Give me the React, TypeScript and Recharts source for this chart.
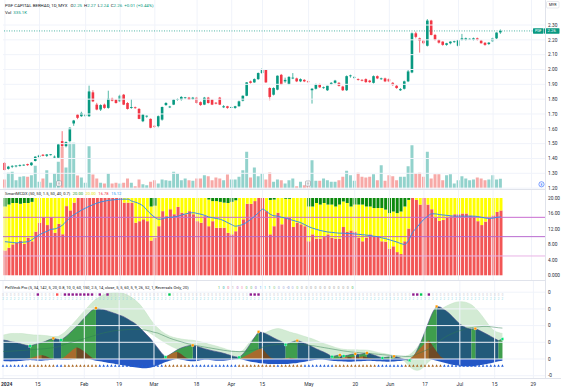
import React from 'react';
import { ComposedChart, Bar, Line, Area, XAxis, YAxis, ReferenceLine, Cell } from 'recharts';

// ---------------- data ----------------
const X_TICK_INDEX = [0, 9, 21, 30, 39, 50, 59, 67, 79, 91, 100, 109, 118, 127, 137];
const X_TICK_LABELS = ['2024', '15', 'Feb', '19', 'Mar', '18', 'Apr', '15', 'May', '20', 'Jun', '17', 'Jul', '15', '29'];
const PRICE_TICKS = [1.2, 1.3, 1.4, 1.5, 1.6, 1.7, 1.8, 1.9, 2.0, 2.1, 2.2, 2.3];
const MCDX_TICKS = [0, 4, 8, 12, 16, 20];
const MCDX_LEVELS = [15, 10, 5];
const OSC_TICKS = [-1, 0, 1, 2, 3, 4];
const LAST_CLOSE = 2.26;
const FUTURE_BARS = 11;

// [open, high, low, close]
const OHLC: number[][] = [
  [1.37, 1.375, 1.32, 1.322], [1.33, 1.35, 1.325, 1.345], [1.345, 1.355, 1.335, 1.35], [1.35, 1.355, 1.34, 1.352], [1.352, 1.36, 1.345, 1.355],
  [1.355, 1.36, 1.35, 1.358], [1.362, 1.365, 1.35, 1.355], [1.355, 1.375, 1.35, 1.372], [1.383, 1.415, 1.38, 1.412], [1.41, 1.425, 1.405, 1.42],
  [1.425, 1.43, 1.415, 1.418], [1.418, 1.43, 1.41, 1.427], [1.425, 1.43, 1.42, 1.428], [1.41, 1.42, 1.4, 1.412], [1.405, 1.5, 1.4, 1.495],
  [1.517, 1.584, 1.48, 1.483], [1.483, 1.515, 1.475, 1.51], [1.517, 1.61, 1.51, 1.607], [1.636, 1.66, 1.62, 1.656], [1.696, 1.7, 1.665, 1.674],
  [1.685, 1.715, 1.68, 1.707], [1.69, 1.7, 1.68, 1.695], [1.685, 1.891, 1.68, 1.852], [1.846, 1.86, 1.78, 1.785], [1.763, 1.775, 1.725, 1.73],
  [1.73, 1.765, 1.72, 1.76], [1.763, 1.77, 1.735, 1.741], [1.741, 1.857, 1.735, 1.803], [1.803, 1.81, 1.785, 1.79], [1.797, 1.8, 1.77, 1.774],
  [1.785, 1.83, 1.78, 1.823], [1.83, 1.835, 1.76, 1.763], [1.774, 1.78, 1.73, 1.734], [1.741, 1.8, 1.735, 1.747], [1.745, 1.75, 1.735, 1.741],
  [1.734, 1.74, 1.665, 1.667], [1.651, 1.7, 1.645, 1.696], [1.685, 1.69, 1.675, 1.688], [1.667, 1.67, 1.6, 1.607], [1.62, 1.625, 1.605, 1.615],
  [1.618, 1.69, 1.61, 1.685], [1.662, 1.75, 1.655, 1.747], [1.76, 1.78, 1.755, 1.774], [1.745, 1.755, 1.74, 1.75], [1.763, 1.8, 1.76, 1.797],
  [1.795, 1.805, 1.79, 1.8], [1.797, 1.82, 1.79, 1.815], [1.808, 1.815, 1.8, 1.812], [1.81, 1.815, 1.795, 1.797], [1.8, 1.815, 1.795, 1.81],
  [1.81, 1.815, 1.77, 1.774], [1.78, 1.785, 1.755, 1.76], [1.763, 1.815, 1.76, 1.81], [1.81, 1.815, 1.77, 1.774], [1.797, 1.8, 1.76, 1.763],
  [1.776, 1.78, 1.765, 1.77], [1.81, 1.815, 1.76, 1.763], [1.745, 1.76, 1.74, 1.752], [1.752, 1.755, 1.735, 1.741], [1.743, 1.75, 1.74, 1.747],
  [1.741, 1.755, 1.735, 1.752], [1.752, 1.79, 1.75, 1.785], [1.79, 1.825, 1.785, 1.823], [1.823, 1.915, 1.82, 1.913], [1.92, 1.925, 1.905, 1.91],
  [1.913, 1.94, 1.91, 1.935], [1.935, 1.98, 1.93, 1.976], [1.976, 2.009, 1.97, 1.998], [1.998, 2.0, 1.91, 1.913], [1.875, 1.88, 1.792, 1.815],
  [1.83, 1.88, 1.825, 1.875], [1.864, 1.96, 1.86, 1.958], [1.964, 1.97, 1.895, 1.897], [1.92, 1.945, 1.91, 1.93], [1.9, 1.955, 1.895, 1.95],
  [1.94, 1.976, 1.935, 1.945], [1.94, 1.945, 1.915, 1.92], [1.92, 1.94, 1.915, 1.935], [1.93, 1.935, 1.915, 1.92], [1.92, 1.925, 1.91, 1.915],
  [1.86, 1.875, 1.77, 1.87], [1.87, 1.905, 1.865, 1.9], [1.9, 1.905, 1.875, 1.88], [1.875, 1.885, 1.87, 1.88], [1.86, 1.89, 1.855, 1.89],
  [1.9, 1.915, 1.895, 1.91], [1.91, 1.93, 1.905, 1.925], [1.91, 1.915, 1.885, 1.89], [1.885, 1.89, 1.855, 1.86], [1.86, 1.96, 1.855, 1.955],
  [1.955, 1.965, 1.945, 1.96], [1.945, 1.955, 1.935, 1.95], [1.935, 1.94, 1.925, 1.93], [1.93, 1.935, 1.92, 1.925], [1.935, 1.94, 1.91, 1.915],
  [1.925, 1.93, 1.91, 1.915], [1.91, 1.96, 1.905, 1.955], [1.955, 1.96, 1.935, 1.94], [1.935, 1.945, 1.93, 1.94], [1.94, 1.945, 1.915, 1.92],
  [1.935, 1.94, 1.915, 1.92], [1.91, 1.915, 1.89, 1.895], [1.89, 1.895, 1.87, 1.875], [1.86, 1.875, 1.855, 1.868], [1.87, 1.925, 1.865, 1.92],
  [1.92, 2.0, 1.915, 1.987], [1.98, 2.25, 1.975, 2.244], [2.244, 2.255, 2.21, 2.22], [2.21, 2.215, 2.114, 2.195], [2.195, 2.2, 2.17, 2.177],
  [2.16, 2.34, 2.155, 2.33], [2.33, 2.335, 2.23, 2.233], [2.233, 2.24, 2.195, 2.199], [2.199, 2.205, 2.175, 2.181], [2.188, 2.19, 2.16, 2.166],
  [2.166, 2.18, 2.16, 2.177], [2.177, 2.19, 2.17, 2.188], [2.188, 2.195, 2.18, 2.19], [2.16, 2.2, 2.155, 2.199], [2.199, 2.24, 2.195, 2.21],
  [2.2, 2.215, 2.195, 2.21], [2.205, 2.21, 2.2, 2.207], [2.2, 2.215, 2.195, 2.21], [2.21, 2.215, 2.195, 2.2], [2.195, 2.2, 2.175, 2.177],
  [2.18, 2.185, 2.16, 2.166], [2.172, 2.185, 2.165, 2.181], [2.19, 2.215, 2.185, 2.21], [2.21, 2.25, 2.205, 2.249], [2.25, 2.27, 2.24, 2.26],
];

// volume, thousands of shares
const VOLUME = [
  311, 541, 576, 286, 403, 425, 403, 460, 783, 230,
  345, 633, 196, 518, 920, 1438, 725, 1575, 1575, 449,
  380, 196, 1460, 483, 345, 196, 173, 518, 173, 196,
  173, 196, 345, 196, 80, 311, 150, 115, 230, 286,
  173, 311, 286, 265, 576, 518, 286, 345, 286, 265,
  345, 345, 460, 425, 286, 380, 345, 286, 483, 311,
  311, 403, 633, 1265, 380, 725, 425, 518, 311, 552,
  230, 311, 286, 173, 286, 345, 80, 230, 115, 230,
  977, 265, 265, 345, 286, 230, 230, 286, 403, 610,
  460, 265, 541, 403, 380, 403, 495, 286, 805, 265,
  460, 425, 286, 403, 403, 770, 1495, 518, 541, 403,
  1265, 345, 495, 495, 286, 460, 495, 173, 286, 425,
  345, 286, 311, 380, 345, 286, 311, 460, 311, 335.1,
];

const MCDX_RED = [
  6.4, 7.1, 8.0, 8.4, 9.0, 8.1, 9.7, 8.8, 11.3, 13.6,
  15.1, 13.0, 15.1, 11.0, 13.3, 10.6, 17.9, 16.8, 18.8, 20,
  20, 20, 20, 20, 20, 20, 20, 20, 20, 20,
  20, 18.8, 18.8, 18.8, 13.6, 14.0, 14.5, 14.0, 9.0, 9.7,
  12.7, 16.6, 15.3, 17.1, 15.8, 17.7, 16.2, 15.8, 16.6, 15.8,
  14.0, 13.6, 15.3, 12.7, 14.0, 12.3, 12.3, 12.3, 11.0, 10.6,
  11.4, 12.7, 14.5, 18.5, 18.5, 19.2, 20, 20, 16.6, 10.6,
  12.7, 16.2, 13.2, 14.9, 14.9, 12.5, 13.6, 13.2, 12.7, 8.8,
  10.6, 9.5, 9.5, 9.9, 10.6, 9.7, 9.5, 9.5, 12.5, 11.3,
  11.6, 11.3, 9.7, 8.8, 9.7, 10.6, 10.1, 10.1, 8.8, 8.7,
  6.9, 7.5, 6.0, 5.5, 8.8, 12.1, 20, 19.5, 18.3, 20,
  18.3, 17.1, 14.9, 14.1, 14.3, 14.9, 15.3, 15.8, 15.8, 16.0,
  16.0, 15.5, 15.3, 14.0, 13.0, 13.9, 14.7, 15.5, 16.4, 16.78,
];

const MCDX_GREEN = [
  2.2, 1.7, 1.3, 1.3, 1.5, 1.3, 1.3, 1.0, 0, 0,
  0, 0, 0, 0, 0, 0, 0, 0, 0, 0,
  0, 0, 0, 0, 0, 0, 0, 0, 0, 0,
  0, 0, 0, 0, 0, 0, 0, 0, 2.2, 2.0,
  0, 0, 0, 0, 0, 0, 0, 0, 0, 0,
  0, 0, 0, 0.4, 0.8, 0.8, 1.0, 1.2, 1.3, 1.0,
  0.6, 0, 0, 0, 0, 0, 0, 0, 0, 0.5,
  0.4, 0, 0, 0.2, 0.2, 0, 0, 0, 0, 2.2,
  2.2, 1.3, 1.7, 1.3, 1.7, 1.7, 2.2, 1.7, 0.9, 1.3,
  2.2, 1.7, 1.7, 1.7, 2.2, 2.2, 2.6, 2.6, 2.6, 3.0,
  3.9, 3.5, 3.9, 3.5, 2.2, 0.5, 0, 0, 0, 0,
  0, 0, 0, 0, 0, 0, 0, 0, 0, 0,
  0, 0, 0, 0, 0, 0, 0, 0, 0, 0,
];

const MCDX_AVG = [
  8.7, 8.6, 8.5, 8.4, 8.5, 8.6, 8.7, 9.2, 9.9, 10.5,
  11.0, 11.4, 11.9, 12.0, 12.4, 13.0, 14.0, 15.0, 15.7, 16.3,
  16.9, 17.4, 17.9, 18.3, 18.7, 19.0, 19.2, 19.4, 19.5, 19.6,
  19.7, 19.7, 19.7, 19.2, 18.9, 18.5, 17.9, 16.8, 15.8, 15.0,
  14.5, 14.6, 14.9, 15.0, 15.1, 15.3, 15.6, 15.9, 16.1, 16.2,
  16.0, 15.8, 15.5, 15.1, 14.9, 14.7, 14.5, 14.1, 13.6, 13.1,
  12.7, 12.9, 13.2, 13.8, 14.5, 15.3, 16.2, 17.1, 16.6, 15.8,
  15.4, 15.3, 15.0, 14.8, 14.5, 14.2, 13.9, 13.6, 13.1, 12.6,
  12.2, 11.9, 11.6, 11.4, 11.2, 11.1, 11.0, 10.9, 10.9, 10.8,
  10.8, 10.7, 10.6, 10.5, 10.4, 10.3, 10.1, 10.0, 9.7, 9.5,
  9.2, 8.9, 8.6, 8.2, 8.0, 9.0, 11.0, 12.2, 13.4, 14.5,
  15.3, 15.9, 15.9, 15.7, 15.6, 15.5, 15.4, 15.3, 15.3, 15.3,
  15.3, 15.3, 15.3, 15.2, 15.0, 14.8, 14.7, 14.8, 15.0, 15.12,
];

const OSC_MAIN = [
  1.14, 1.10, 1.04, 1.00, 0.95, 0.88, 0.82, 0.78, 0.85, 0.92,
  0.98, 1.06, 1.16, 1.24, 1.18, 1.14, 1.30, 1.50, 1.72, 1.95,
  2.20, 2.45, 2.70, 2.92, 3.05, 3.00, 2.95, 2.88, 2.80, 2.72,
  2.63, 2.55, 2.42, 2.28, 2.14, 1.95, 1.72, 1.48, 1.24, 0.95,
  0.65, 0.35, 0.12, 0.25, 0.40, 0.55, 0.66, 0.74, 0.80, 0.82,
  0.76, 0.69, 0.62, 0.56, 0.50, 0.45, 0.40, 0.34, 0.27, 0.20,
  0.13, 0.10, 0.30, 0.60, 0.95, 1.30, 1.63, 1.58, 1.50, 1.38,
  1.25, 1.14, 1.04, 0.86, 0.95, 1.05, 1.10, 1.04, 0.93, 0.84,
  0.72, 0.60, 0.50, 0.40, 0.28, 0.14, 0.20, 0.24, 0.18, 0.22,
  0.28, 0.31, 0.27, 0.32, 0.36, 0.30, 0.22, 0.14, 0.06, 0.10,
  0.14, 0.16, 0.10, 0.03, -0.04, -0.08, 0.12, 0.55, 1.05, 1.65,
  2.25, 2.80, 3.15, 3.10, 2.95, 2.78, 2.56, 2.32, 2.10, 1.95,
  1.84, 1.80, 1.82, 1.72, 1.60, 1.48, 1.35, 1.22, 1.10, 1.20,
];

const OSC_UPPER = [
  1.43, 1.48, 1.52, 1.53, 1.53, 1.52, 1.49, 1.46, 1.44, 1.43,
  1.42, 1.40, 1.37, 1.34, 1.34, 1.45, 1.62, 1.85, 2.10, 2.35,
  2.62, 2.88, 3.13, 3.38, 3.58, 3.73, 3.85, 3.93, 3.97, 3.98,
  3.97, 3.93, 3.85, 3.72, 3.55, 3.35, 3.08, 2.75, 2.40, 2.10,
  1.85, 1.65, 1.50, 1.38, 1.30, 1.24, 1.20, 1.16, 1.14, 1.12,
  1.08, 1.03, 0.97, 0.90, 0.84, 0.78, 0.71, 0.64, 0.56, 0.50,
  0.46, 0.44, 0.52, 0.80, 1.08, 1.30, 1.45, 1.53, 1.60, 1.70,
  1.78, 1.82, 1.78, 1.70, 1.62, 1.55, 1.50, 1.42, 1.34, 1.27,
  1.20, 1.10, 1.00, 0.92, 0.84, 0.76, 0.68, 0.62, 0.58, 0.56,
  0.55, 0.55, 0.54, 0.54, 0.53, 0.50, 0.44, 0.38, 0.34, 0.30,
  0.25, 0.20, 0.16, 0.14, 0.18, 0.25, 0.45, 0.70, 1.05, 1.45,
  1.90, 2.30, 2.65, 2.92, 3.10, 3.22, 3.32, 3.40, 3.43, 3.42,
  3.36, 3.25, 3.05, 2.80, 2.50, 2.18, 1.88, 1.68, 1.58, 1.53,
];

const OSC_LOWER = [
  0, 0, 0, 0, 0, 0, 0, 0, 0, 0,
  0, 0, 0, 0, 0, 0, 0, 0, 0, 0,
  0, 0, 0, 0, 0, 0, 0, 0, 0, 0,
  0, 0, 2.3, 2.25, 2.15, 2.0, 1.85, 1.7, 1.55, 1.4,
  1.25, 1.1, 0.95, 0.82, 0.7, 0.6, 0.5, 0.4, 0.3, 0.2,
  0.1, 0, 0, 0, 0, 0, 0, 0, 0, 0,
  0, 0, 0, 0, 0, 0, 0, 0, 0, 0,
  0, 0, 0, 0, 0, 0, 0, 0, 0, 0,
  0, 0, 0, 0, 0, 0, 0, 0, 0, 0,
  0, 0, 0, 0, 0, 0, 0, 0, 0, 0,
  0, 0, 0, 0, -0.2, -0.45, -0.62, -0.68, -0.6, -0.4,
  -0.15, 0, 0, 0, 0, 0, 0, 0, 0, 0,
  0, 0, 0, 0, 0, 0, 0, 0, 0, 0,
];

const OSC_SIGNAL = [
  0.45, 0.46, 0.47, 0.48, 0.5, 0.51, 0.53, 0.55, 0.57, 0.59,
  0.6, 0.62, 0.65, 0.68, 0.72, 0.8, 0.88, 0.95, 1.02, 1.09,
  1.15, 1.22, 1.29, 1.36, 1.43, 1.5, 1.56, 1.61, 1.66, 1.7,
  1.72, 1.74, 1.76, 1.77, 1.78, 1.78, 1.76, 1.72, 1.67, 1.6,
  1.55, 1.45, 1.35, 1.25, 1.17, 1.1, 1.03, 0.96, 0.9, 0.85,
  0.8, 0.76, 0.72, 0.68, 0.64, 0.6, 0.56, 0.52, 0.49, 0.46,
  0.45, 0.44, 0.45, 0.47, 0.5, 0.55, 0.62, 0.7, 0.77, 0.82,
  0.85, 0.87, 0.88, 0.89, 0.9, 0.9, 0.88, 0.86, 0.84, 0.82,
  0.8, 0.76, 0.72, 0.68, 0.64, 0.6, 0.56, 0.52, 0.48, 0.45,
  0.42, 0.4, 0.38, 0.36, 0.34, 0.32, 0.3, 0.28, 0.26, 0.24,
  0.22, 0.2, 0.18, 0.17, 0.15, 0.15, 0.2, 0.3, 0.4, 0.5,
  0.6, 0.78, 0.95, 1.12, 1.28, 1.42, 1.52, 1.62, 1.7, 1.76,
  1.85, 1.88, 1.91, 1.93, 1.95, 1.95, 1.93, 1.9, 1.87, 1.85,
];

const OSC_BROWN = [
  0, 0, 0, 0, 0, 0, 0, 0.05, 0.12, 0.2,
  0.24, 0.18, 0.08, 0, 0, 0, 0.15, 0.35, 0.55, 0.70,
  0.62, 0.45, 0.25, 0.08, 0, 0, 0, 0, 0, 0,
  0, 0, 0, 0, 0, 0, 0, 0, 0, 0,
  0, 0, 0.1, 0.25, 0.38, 0.44, 0.3, 0.12, 0, 0,
  0, 0, 0, 0, 0, 0, 0, 0, 0, 0,
  0, 0, 0.1, 0.22, 0.35, 0.48, 0.58, 0.64, 0.35, 0.1,
  0, 0, 0, 0.04, 0.08, 0.05, 0, 0, 0, 0,
  0, 0, 0, 0, 0, 0, 0, 0.05, 0.1, 0.14,
  0.1, 0.15, 0.12, 0.16, 0.1, 0.04, 0, 0, 0, 0,
  0, 0, 0, 0, 0, 0, 0.2, 0.45, 0.7, 0.95,
  1.14, 0.8, 0.45, 0.15, 0, 0, 0, 0, 0, 0,
  0, 0, 0, 0, 0, 0, 0, 0, 0, 0,
];

const OSC_NEG = [
  -0.12, -0.14, -0.15, -0.14, -0.12, -0.1, -0.08, -0.06, -0.08, -0.1,
  -0.1, -0.08, -0.06, -0.04, -0.03, -0.04, -0.05, -0.04, -0.02, 0,
  0, 0, 0, -0.05, -0.1, -0.14, -0.18, -0.22, -0.26, -0.3,
  -0.34, -0.38, -0.42, -0.46, -0.5, -0.53, -0.55, -0.55, -0.52, -0.46,
  -0.38, -0.28, -0.18, -0.1, -0.04, 0, -0.04, -0.08, -0.12, -0.13,
  -0.12, -0.08, -0.04, -0.04, -0.08, -0.1, -0.11, -0.1, -0.07, -0.04,
  -0.02, 0, -0.04, -0.1, -0.16, -0.2, -0.24, -0.26, -0.28, -0.3,
  -0.3, -0.3, -0.3, -0.3, -0.28, -0.26, -0.24, -0.2, -0.16, -0.12,
  -0.08, -0.05, -0.03, -0.05, -0.08, -0.1, -0.12, -0.14, -0.15, -0.16,
  -0.16, -0.15, -0.14, -0.12, -0.1, -0.1, -0.12, -0.14, -0.15, -0.16,
  -0.16, -0.15, -0.12, -0.1, -0.06, -0.03, 0, 0, 0, 0,
  0, -0.04, -0.1, -0.16, -0.22, -0.28, -0.34, -0.38, -0.42, -0.44,
  -0.45, -0.44, -0.42, -0.38, -0.34, -0.3, -0.26, -0.2, -0.14, -0.1,
];

const OSC_PEAKS = [13, 24, 49, 66, 76, 87, 91, 94, 101, 112, 122];
const OSC_TROUGHS = [7, 15, 42, 61, 73, 85, 88, 98, 105, 129];
const SIGNAL_PURPLE = [9, 16, 17, 18, 19, 20, 21, 22, 23, 25, 27, 64, 65, 66, 106, 107, 110];
const SIGNAL_RED = [14];
const SIGNAL_GREEN = [43, 108];
const BROWN_STATE_RANGES = [[7, 13], [16, 24], [42, 48], [61, 70], [72, 77], [86, 96], [104, 113]];

const OSC_LEGEND = ['1', '0', '0', '1', '0', '0', '0', '0', '0', '1', '1', '1', '0', '0', '0', '-0', '0', '0', '0', '0', '0', '0', '0', '0', '0', '0', '0', '0', '0', '0'];
const OSC_LEGEND_COLORS = ['#4caf50', '#26a69a', '#f06292', '#9e9e9e', '#ba68c8', '#f48fb1', '#66bb6a', '#66bb6a', '#9575cd', '#42a5f5', '#4dd0e1', '#26a69a', '#81c784', '#9fa8da', '#9fa8da', '#7986cb', '#9fa8da', '#81c784', '#9e9e9e', '#9e9e9e', '#9e9e9e', '#9e9e9e', '#9e9e9e', '#9e9e9e', '#9e9e9e', '#9e9e9e', '#9e9e9e', '#9e9e9e', '#9e9e9e', '#4caf50'];

// ---------------- styling ----------------
const UP = '#089981';
const DOWN = '#f23645';
const VOL_UP = '#92d2cc';
const VOL_DOWN = '#f7a9a7';
const GRID = '#f0f3fa';
const TXT = '#131722';
const AXIS_TXT = '#2a2e39';
const FONT = 'Roboto, "Noto Sans", sans-serif';

// row positions (value units of the oscillator axis)
const ROW_SQUARES = 3.86;
const ROW_DIGITS = 3.62;
const ROW_MARKERS = -0.42;

// split a series into alternating rising / falling runs
function splitRuns(vals: number[]) {
  const out: Record<string, (number | null)[]> = {
    u0: vals.map(() => null), u1: vals.map(() => null),
    d0: vals.map(() => null), d1: vals.map(() => null),
  };
  let k = 0;
  let nu = 0;
  let nd = 0;
  while (k < vals.length - 1) {
    const up = vals[k + 1] > vals[k];
    let e = k + 1;
    while (e < vals.length - 1 && (vals[e + 1] > vals[e]) === up) e++;
    const key = up ? (nu++ % 2 ? 'u1' : 'u0') : (nd++ % 2 ? 'd1' : 'd0');
    for (let j = k; j <= e; j++) out[key][j] = vals[j];
    k = e;
  }
  return out;
}

const MAIN_SPLIT = splitRuns(OSC_MAIN);
const BROWN_SPLIT = splitRuns(OSC_BROWN);
const N = OHLC.length;

const rows = Array.from({ length: N + FUTURE_BARS }, (_, i) => {
  if (i >= N) return { i } as any;
  const [o, h, l, c] = OHLC[i];
  return {
    i, o, h, l, c,
    v: VOLUME[i],
    r: MCDX_RED[i], g: MCDX_GREEN[i], y: 20 - MCDX_RED[i] - MCDX_GREEN[i], b: MCDX_AVG[i],
    m: OSC_MAIN[i], env: [OSC_LOWER[i], OSC_UPPER[i]], s: OSC_SIGNAL[i], n: OSC_NEG[i],
    mu0: MAIN_SPLIT.u0[i], mu1: MAIN_SPLIT.u1[i], md0: MAIN_SPLIT.d0[i], md1: MAIN_SPLIT.d1[i],
    bu0: BROWN_SPLIT.u0[i], bu1: BROWN_SPLIT.u1[i], bd0: BROWN_SPLIT.d0[i], bd1: BROWN_SPLIT.d1[i],
  };
});

const PEAK_SET = new Set(OSC_PEAKS);
const TROUGH_SET = new Set(OSC_TROUGHS);
const isBrownState = (i: number) => BROWN_STATE_RANGES.some(([a, b]) => i >= a && i <= b);
const squareColor = (i: number) =>
  SIGNAL_PURPLE.includes(i) ? '#8e1c8e' : SIGNAL_RED.includes(i) ? '#ff5252' : SIGNAL_GREEN.includes(i) ? '#00c853' : null;

// ---------------- renderers ----------------
function renderCandle(props: any) {
  const { x, y, width, height, payload } = props;
  if (!payload || payload.o == null || x == null || y == null) return <g />;
  const { o, h, l, c } = payload;
  const top = Math.min(y, y + height);
  const bottom = Math.max(y, y + height);
  const k = (bottom - top) / Math.max(h - l, 1e-9);
  const yo = top + (h - o) * k;
  const yc = top + (h - c) * k;
  const color = c >= o ? UP : DOWN;
  const cx = x + width / 2;
  const bw = 2.6;
  return (
    <g>
      <line x1={cx} x2={cx} y1={top} y2={bottom} stroke={color} strokeWidth={0.7} />
      <rect x={cx - bw / 2} y={Math.min(yo, yc)} width={bw} height={Math.max(Math.abs(yc - yo), 0.8)} fill={color} />
    </g>
  );
}

const priceTick = (p: any) => (
  <text x={548} y={p.y} dy={1.7} fontSize={4.8} fill={AXIS_TXT} fontFamily={FONT}>{Number(p.payload.value).toFixed(2)}</text>
);
const mcdxTick = (p: any) => (
  <text x={548} y={p.y} dy={1.7} fontSize={4.8} fill={AXIS_TXT} fontFamily={FONT}>
    {p.payload.value === 0 ? '0.000' : Number(p.payload.value).toFixed(2)}
  </text>
);
const oscTick = (p: any) => (
  <text x={548} y={p.y} dy={1.7} fontSize={4.8} fill={AXIS_TXT} fontFamily={FONT}>{p.payload.value < 0 ? '-0' : '0'}</text>
);
const timeTick = (p: any) => {
  const idx = X_TICK_INDEX.indexOf(p.payload.value);
  if (idx < 0) return <g />;
  const first = idx === 0;
  return (
    <text x={first ? 1 : p.x} y={105.6} fontSize={5} textAnchor={first ? 'start' : 'middle'} fill={AXIS_TXT}
      fontWeight={first ? 700 : 400} fontFamily={FONT}>{X_TICK_LABELS[idx]}</text>
  );
};

const squareDot = (fill: string, size: number) => (p: any) => {
  if (p.value == null || p.cx == null || p.cy == null) return <g key={p.index} />;
  return <rect key={p.index} x={p.cx - size / 2} y={p.cy - size / 2} width={size} height={size} fill={fill} stroke="#ffffff" strokeWidth={0.3} />;
};
const squaresRowDot = (p: any) => {
  if (p.value == null || p.cx == null || p.cy == null) return <g key={p.index} />;
  const col = squareColor(p.payload.i);
  if (col) return <rect key={p.index} x={p.cx - 1.2} y={p.cy - 1.2} width={2.4} height={2.4} fill={col} />;
  return <text key={p.index} x={p.cx} y={p.cy + 1} fontSize={2.8} textAnchor="middle" fill="#c3c6ce" fontFamily={FONT}>0</text>;
};
const digitsRowDot = (p: any) => {
  if (p.value == null || p.cx == null || p.cy == null) return <g key={p.index} />;
  return <text key={p.index} x={p.cx} y={p.cy + 1} fontSize={2.9} textAnchor="middle" fill="#7fd3e0" fontFamily={FONT}>2</text>;
};
const markerRowDot = (p: any) => {
  if (p.value == null || p.cx == null || p.cy == null) return <g key={p.index} />;
  const col = isBrownState(p.payload.i) ? '#a8641f' : '#1f5ad6';
  const s = 1.3;
  return <path key={p.index} d={`M${p.cx},${p.cy - s - 0.4} L${p.cx + s},${p.cy + s * 0.6} L${p.cx - s},${p.cy + s * 0.6} Z`} fill={col} />;
};

function LastPriceLabel(props: any) {
  const vb = props.viewBox || {};
  if (vb.y == null) return null;
  const right = vb.x + vb.width;
  const y = vb.y;
  return (
    <g fontFamily={FONT}>
      <rect x={right - 12} y={y - 2.7} width={10.5} height={5.4} fill={UP} rx={0.6} />
      <text x={right - 6.75} y={y + 1.4} fontSize={3.6} fill="#fff" textAnchor="middle">PGF</text>
      <rect x={right - 1} y={y - 2.7} width={15.5} height={5.4} fill={UP} rx={0.6} />
      <text x={right + 6.75} y={y + 1.5} fontSize={4.3} fill="#fff" textAnchor="middle">{LAST_CLOSE.toFixed(2)}</text>
    </g>
  );
}

const vGrid = (xId?: string, yId?: string) =>
  X_TICK_INDEX.map((t) => (
    <ReferenceLine key={'vg' + t} x={t} stroke={GRID} strokeWidth={1} {...(xId ? { xAxisId: xId } : {})} {...(yId ? { yAxisId: yId } : {})} />
  ));

export default function App() {
  const hasBar = (d: any) => d.o != null;
  return (
    <div style={{ position: 'absolute', left: 0, top: 0, width: 561, height: 388, background: '#ffffff', overflow: 'hidden', fontFamily: FONT }}>
      {/* price + volume pane */}
      <div style={{ position: 'absolute', left: 0, top: 0 }}>
        <ComposedChart width={561} height={190} data={rows} margin={{ top: 0, right: 0, bottom: 1.5, left: 3 }}>
          <XAxis xAxisId="c" dataKey="i" hide />
          <XAxis xAxisId="v" dataKey="i" hide />
          <YAxis yAxisId="price" orientation="right" width={16} domain={[1.1975, 2.4686]} ticks={PRICE_TICKS} interval={0}
            allowDataOverflow axisLine={false} tickLine={false} tick={priceTick} />
          <YAxis yAxisId="vol" hide domain={[0, 6503]} allowDataOverflow />
          {PRICE_TICKS.map((t) => (
            <ReferenceLine key={'hg' + t} xAxisId="c" yAxisId="price" y={t} stroke={GRID} strokeWidth={1} />
          ))}
          {vGrid('c', 'price')}
          <Bar xAxisId="v" yAxisId="vol" dataKey="v" barSize={3} isAnimationActive={false}>
            {rows.map((r: any) => (
              <Cell key={r.i} fill={r.c >= r.o ? VOL_UP : VOL_DOWN} />
            ))}
          </Bar>
          <ReferenceLine xAxisId="c" yAxisId="price" y={LAST_CLOSE} stroke={UP} strokeDasharray="1 1.5" strokeWidth={0.7}
            label={<LastPriceLabel />} />
          <Bar xAxisId="c" yAxisId="price" dataKey={(d: any) => (d.h == null ? null : [d.l, d.h])} barSize={3}
            shape={renderCandle} isAnimationActive={false} />
        </ComposedChart>
      </div>

      {/* SmartMCDX pane */}
      <div style={{ position: 'absolute', left: 0, top: 190 }}>
        <ComposedChart width={561} height={90} data={rows} margin={{ top: 0, right: 0, bottom: 0, left: 3 }} barCategoryGap="16%">
          <XAxis dataKey="i" hide />
          <YAxis orientation="right" width={16} domain={[-1.216, 22.07]} ticks={MCDX_TICKS} interval={0} allowDataOverflow
            axisLine={false} tickLine={false} tick={mcdxTick} />
          {vGrid()}
          <Bar dataKey="r" stackId="m" fill="#f25656" isAnimationActive={false} />
          <Bar dataKey="y" stackId="m" fill="#ffff00" isAnimationActive={false} />
          <Bar dataKey="g" stackId="m" fill="#0b8a0b" isAnimationActive={false} />
          <ReferenceLine y={MCDX_LEVELS[0]} stroke="#c86bd0" strokeWidth={1} />
          <ReferenceLine y={MCDX_LEVELS[1]} stroke="#b86ad0" strokeWidth={1} />
          <ReferenceLine y={MCDX_LEVELS[2]} stroke="#e9b3e6" strokeWidth={1} />
          <Line dataKey="b" type="monotone" stroke="#3a8ee6" strokeWidth={1} dot={false} isAnimationActive={false} />
        </ComposedChart>
      </div>

      {/* oscillator pane */}
      <div style={{ position: 'absolute', left: 0, top: 280 }}>
        <ComposedChart width={561} height={108} data={rows} margin={{ top: 0, right: 0, bottom: 0, left: 3 }}>
          <XAxis dataKey="i" interval={0} height={10} axisLine={false} tickLine={false} tick={timeTick} />
          <YAxis orientation="right" width={16} domain={[-1.138, 4.73]} ticks={OSC_TICKS} interval={0} allowDataOverflow
            axisLine={false} tickLine={false} tick={oscTick} />
          {OSC_TICKS.map((t) => (
            <ReferenceLine key={'og' + t} y={t} stroke={GRID} strokeWidth={1} />
          ))}
          {vGrid()}
          <Area dataKey="env" type="monotone" fill="#d3ebd4" fillOpacity={1} stroke="#c0e2c2" strokeWidth={0.5} isAnimationActive={false} />
          <Area dataKey="n" type="monotone" fill="#2457c5" fillOpacity={1} stroke="none" isAnimationActive={false} />
          {['md0', 'md1'].map((k) => (
            <Area key={k} dataKey={k} type="monotone" fill="#225a7a" fillOpacity={1} stroke="#4a4a8c" strokeWidth={0.6} isAnimationActive={false} />
          ))}
          {['mu0', 'mu1'].map((k) => (
            <Area key={k} dataKey={k} type="monotone" fill="#3f9e4d" fillOpacity={1} stroke="#4a4a8c" strokeWidth={0.6} isAnimationActive={false} />
          ))}
          <Line dataKey="s" type="monotone" stroke="#2e7d52" strokeWidth={0.6} strokeOpacity={0.8} dot={false} isAnimationActive={false} />
          {['bu0', 'bu1'].map((k) => (
            <Area key={k} dataKey={k} type="linear" fill="#a86b2d" fillOpacity={1} stroke="none" isAnimationActive={false} />
          ))}
          {['bd0', 'bd1'].map((k) => (
            <Area key={k} dataKey={k} type="linear" fill="#6f4a26" fillOpacity={1} stroke="none" isAnimationActive={false} />
          ))}
          <Line dataKey={(d: any) => (PEAK_SET.has(d.i) && d.m != null ? d.m : null)} stroke="none" strokeWidth={0}
            dot={squareDot('#ff9800', 2.6)} isAnimationActive={false} />
          <Line dataKey={(d: any) => (TROUGH_SET.has(d.i) && d.m != null ? d.m : null)} stroke="none" strokeWidth={0}
            dot={squareDot('#00e676', 2.6)} isAnimationActive={false} />
          <Line dataKey={(d: any) => (hasBar(d) ? ROW_SQUARES : null)} stroke="none" strokeWidth={0} dot={squaresRowDot} isAnimationActive={false} />
          <Line dataKey={(d: any) => (hasBar(d) ? ROW_DIGITS : null)} stroke="none" strokeWidth={0} dot={digitsRowDot} isAnimationActive={false} />
          <Line dataKey={(d: any) => (hasBar(d) ? ROW_MARKERS : null)} stroke="none" strokeWidth={0} dot={markerRowDot} isAnimationActive={false} />
        </ComposedChart>
      </div>

      {/* overlay: pane borders, legends, labels */}
      <svg width={561} height={388} style={{ position: 'absolute', left: 0, top: 0, pointerEvents: 'none' }} fontFamily={FONT}>
        <line x1={0} x2={545} y1={189.5} y2={189.5} stroke="#e0e3eb" strokeWidth={1} />
        <line x1={0} x2={545} y1={280.5} y2={280.5} stroke="#e0e3eb" strokeWidth={1} />
        <line x1={545.5} x2={545.5} y1={0} y2={378} stroke="#e0e3eb" strokeWidth={1} />
        <line x1={0} x2={561} y1={378.5} y2={378.5} stroke="#e0e3eb" strokeWidth={1} />

        <text x={5} y={7.2} fontSize={4.4} fill={TXT}>
          <tspan>PGF CAPITAL BERHAD, 1D, MYX</tspan>
          <tspan dx={3}>O</tspan><tspan fill={UP}>2.25</tspan>
          <tspan dx={2}>H</tspan><tspan fill={UP}>2.27</tspan>
          <tspan dx={2}>L</tspan><tspan fill={UP}>2.24</tspan>
          <tspan dx={2}>C</tspan><tspan fill={UP}>2.26</tspan>
          <tspan dx={2} fill={UP}>+0.01 (+0.44%)</tspan>
        </text>
        <text x={5} y={14.2} fontSize={4.4} fill={TXT}>
          <tspan>Vol</tspan><tspan dx={2} fill={UP}>335.1K</tspan>
        </text>

        <rect x={546.5} y={1.5} width={12.5} height={6.5} rx={1} fill="#ffffff" stroke="#d1d4dc" strokeWidth={0.5} />
        <text x={552.75} y={6.1} fontSize={3.6} fill={TXT} textAnchor="middle">MYR</text>

        <rect x={56.5} y={181} width={5} height={5} rx={0.8} fill="#ffffff" stroke="#787b86" strokeWidth={0.5} />
        <line x1={58.3} x2={58.3} y1={182.3} y2={184.7} stroke="#787b86" strokeWidth={0.5} />
        <line x1={59.7} x2={59.7} y1={182.3} y2={184.7} stroke="#787b86" strokeWidth={0.5} />
        <rect x={305.5} y={181} width={5} height={5} rx={0.8} fill="#ffffff" stroke="#787b86" strokeWidth={0.5} />
        <line x1={307.3} x2={307.3} y1={182.3} y2={184.7} stroke="#787b86" strokeWidth={0.5} />
        <line x1={308.7} x2={308.7} y1={182.3} y2={184.7} stroke="#787b86" strokeWidth={0.5} />
        <circle cx={541.5} cy={184.3} r={2.6} fill="#ffffff" stroke="#2962ff" strokeWidth={0.6} />
        <text x={541.5} y={185.7} fontSize={3.6} fill="#2962ff" textAnchor="middle">E</text>

        <text x={5} y={194.6} fontSize={4.1} fill={TXT}>
          <tspan>SmartMCDX (50, 50, 1.5, 50, 40, 0.7)</tspan>
          <tspan dx={2.5} fill="#1b9e1b">20.00</tspan>
          <tspan dx={2.5} fill="#e3e300">20.00</tspan>
          <tspan dx={2.5} fill="#f23645">16.78</tspan>
          <tspan dx={2.5} fill="#2196f3">15.12</tspan>
        </text>

        <text x={5} y={288.6} fontSize={4} fill={TXT}>
          PellVeck Pro (5, 34, 142, 5, 20, 0.8, 10, 0, 60, 150, 2.5, 14, close, 5, 5, 60, 5, 9, 26, 52, 1, Reversals Only, 20)
        </text>
        {OSC_LEGEND.map((v, k) => (
          <text key={'lg' + k} x={219 + k * 4.6} y={288.6} fontSize={3.6} fill={OSC_LEGEND_COLORS[k]} textAnchor="middle">{v}</text>
        ))}
      </svg>
    </div>
  );
}
